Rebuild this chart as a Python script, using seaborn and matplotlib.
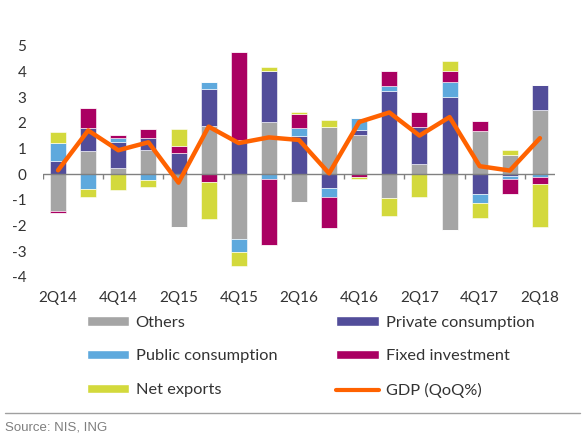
import numpy as np
import seaborn as sns
import matplotlib.pyplot as plt
from matplotlib.patches import Patch
from matplotlib.lines import Line2D

quarters = ['2Q14', '3Q14', '4Q14', '1Q15', '2Q15', '3Q15', '4Q15', '1Q16', '2Q16',
            '3Q16', '4Q16', '1Q17', '2Q17', '3Q17', '4Q17', '1Q18', '2Q18']
others = [-1.45, 0.92, 0.25, 0.95, -2.06, 1.86, -2.51, 2.03, -1.08, 1.83, 1.51, -0.91, 0.40, -2.17, 1.69, 0.75, 2.51]
private = [0.52, 0.87, 1.00, 0.44, 0.84, 1.45, 1.34, 1.97, 1.47, -0.52, 0.22, 3.22, 1.43, 3.00, -0.77, -0.06, 0.97]
public = [0.68, -0.56, 0.15, -0.22, 0.0, 0.27, -0.53, -0.19, 0.31, -0.38, 0.45, 0.22, 0.0, 0.57, -0.34, -0.13, -0.13]
fixed = [-0.05, 0.78, 0.12, 0.36, 0.27, -0.32, 3.42, -2.55, 0.57, -1.21, -0.12, 0.58, 0.57, 0.43, 0.36, -0.58, -0.25]
net_exports = [0.45, -0.31, -0.61, -0.29, 0.64, -1.43, -0.52, 0.16, 0.05, 0.29, -0.06, -0.71, -0.90, 0.39, -0.61, 0.18, -1.69]
gdp = [0.15, 1.70, 0.93, 1.24, -0.33, 1.85, 1.21, 1.43, 1.33, 0.03, 2.03, 2.40, 1.50, 2.22, 0.31, 0.14, 1.40]

names = ['Others', 'Private consumption', 'Public consumption', 'Fixed investment', 'Net exports']
colors = ['#A5A5A5', '#524D9A', '#5EA9DD', '#AA0062', '#D3D93C']
gdp_color = '#FF6200'

sns.set_style('white')
plt.rcParams['font.family'] = ['Lato', 'DejaVu Sans']
plt.rcParams['axes.unicode_minus'] = False

fig = plt.figure(figsize=(5.85, 4.41), dpi=100)
ax = fig.add_axes([0.0735, 0.372, 0.8752, 0.5245])

# stack positives and negatives separately, like Excel does
pos_base = np.zeros(len(quarters))
neg_base = np.zeros(len(quarters))
for vals, color in zip([others, private, public, fixed, net_exports], colors):
    v = np.array(vals)
    pos = np.where(v > 0, v, 0)
    neg = np.where(v < 0, v, 0)
    sns.barplot(x=quarters, y=pos, bottom=pos_base, color=color, saturation=1,
                width=0.53, errorbar=None, ax=ax, edgecolor='white', linewidth=0.4)
    sns.barplot(x=quarters, y=neg, bottom=neg_base, color=color, saturation=1,
                width=0.53, errorbar=None, ax=ax, edgecolor='white', linewidth=0.4)
    pos_base += pos
    neg_base += neg

ax.axhline(0, color='#808080', lw=1, zorder=3)
ax.vlines(np.arange(-0.5, 16, 2), -0.2, 0, color='#808080', lw=1, zorder=3)

sns.lineplot(x=np.arange(len(quarters)), y=gdp, color=gdp_color, lw=3.2, ax=ax, zorder=4)

ax.set_xlim(-0.5, len(quarters) - 0.5)
ax.set_ylim(-4, 5)
ax.set_yticks(range(-4, 6))
ax.set_xticks(range(0, len(quarters), 2))
ax.set_xticklabels(quarters[::2])
ax.tick_params(axis='both', length=0, labelsize=11, labelcolor='#333333')
ax.tick_params(axis='x', pad=10)
ax.tick_params(axis='y', pad=12)
ax.set_xlabel('')
ax.set_ylabel('')
sns.despine(ax=ax, left=True, bottom=True)

handles = [Patch(facecolor=c, label=n) for n, c in zip(names, colors)]
handles.append(Line2D([], [], color=gdp_color, lw=3, label='GDP (QoQ%)'))
order = [0, 2, 4, 1, 3, 5]  # fill legend row by row
fig.legend(handles=[handles[i] for i in order], loc='upper left', ncol=2,
           bbox_to_anchor=(0.148, 0.284), frameon=False, fontsize=11.8,
           handlelength=2.6, handleheight=0.5, handletextpad=0.4,
           columnspacing=3.6, labelspacing=1.2, borderpad=0, borderaxespad=0,
           labelcolor='#333333')

fig.add_artist(Line2D([0.008, 0.992], [0.0635, 0.0635], color='#A0A0A0', lw=1))
fig.text(0.009, 0.0295, 'Source: NIS, ING', color='#7F7F7F', fontsize=9.5,
         family='Liberation Sans', va='center')

fig.savefig('out.png', dpi=100)
